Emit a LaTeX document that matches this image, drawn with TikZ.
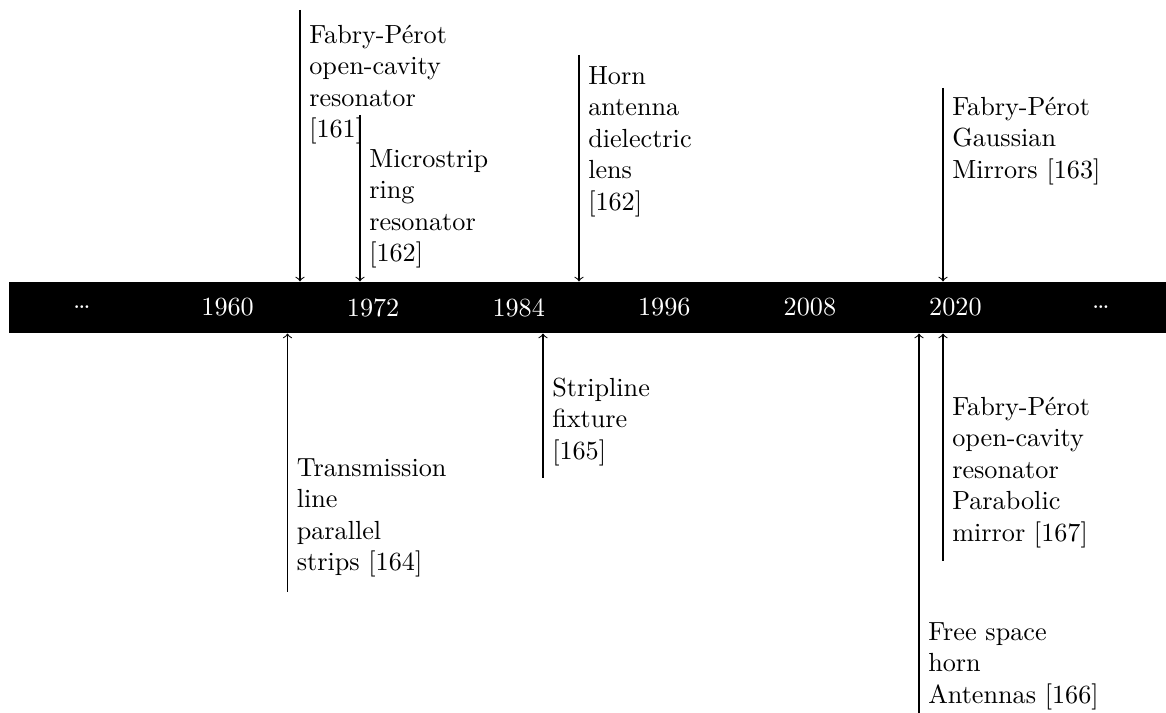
\documentclass[tikz,border=0pt]{standalone}
\usetikzlibrary{fit}
\begin{document}
\begin{tikzpicture}[x=0.3817pt,y=-0.3817pt,
  lbl/.style={align=left, anchor=north west, inner sep=3.33pt,
              font=\fontsize{10}{12}\selectfont},
  yr/.style={text=white, inner sep=0pt, font=\fontsize{10}{12}\selectfont},
  tick/.style={->, line width=0.4pt}]
\useasboundingbox (0,0) rectangle (1166,713);

% the time axis
\node[fit={(9,282)(1166,333)}, inner sep=0pt, fill=black, draw=none] (bar) {};

% year marks on the axis
\node[yr] (y0) at (82,307.5)    {\dots};
\node[yr] (y1) at (227.6,307.5) {1960};
\node[yr] (y2) at (373.1,307.5) {1972};
\node[yr] (y3) at (518.7,307.5) {1984};
\node[yr] (y4) at (664.3,307.5) {1996};
\node[yr] (y5) at (809.9,307.5) {2008};
\node[yr] (y6) at (955.4,307.5) {2020};
\node[yr] (y7) at (1101,307.5)  {\dots};

% events above the axis
\coordinate (a0) at (300,10);
\coordinate (b0) at (360,115);
\coordinate (c0) at (579,55);
\coordinate (d0) at (943,88);
\node[lbl] (la) at (300,12.3)  {\strut Fabry-Pérot\\open-cavity\\resonator\\{[161]}};
\node[lbl] (lb) at (360,136.3) {\strut Microstrip\\ring\\resonator\\{[162]}};
\node[lbl] (lc) at (579,53.3)  {\strut Horn\\antenna\\dielectric\\lens\\{[162]}};
\node[lbl] (ld) at (943,84.3)  {\strut Fabry-Pérot\\Gaussian\\Mirrors [163]};
\draw[tick] (a0) -- (a0 |- bar.north);
\draw[tick] (b0) -- (b0 |- bar.north);
\draw[tick] (c0) -- (c0 |- bar.north);
\draw[tick] (d0) -- (d0 |- bar.north);

% events below the axis
\coordinate (e0) at (287.5,592);
\coordinate (f0) at (543,478);
\coordinate (g0) at (943,561);
\coordinate (h0) at (919,713);
\node[lbl] (le) at (287.5,445.3) {\strut Transmission\\line\\parallel\\strips [164]};
\node[lbl] (lf) at (543,365.3)   {\strut Stripline\\fixture\\{[165]}};
\node[lbl] (lg) at (943,384.3)   {\strut Fabry-Pérot\\open-cavity\\resonator\\Parabolic\\mirror [167]};
\node[lbl] (lh) at (919,609.3)   {\strut Free space\\horn\\Antennas [166]};
\draw[tick] (e0) -- (e0 |- bar.south);
\draw[tick] (f0) -- (f0 |- bar.south);
\draw[tick] (g0) -- (g0 |- bar.south);
\draw[tick] (h0) -- (h0 |- bar.south);
\end{tikzpicture}
\end{document}
